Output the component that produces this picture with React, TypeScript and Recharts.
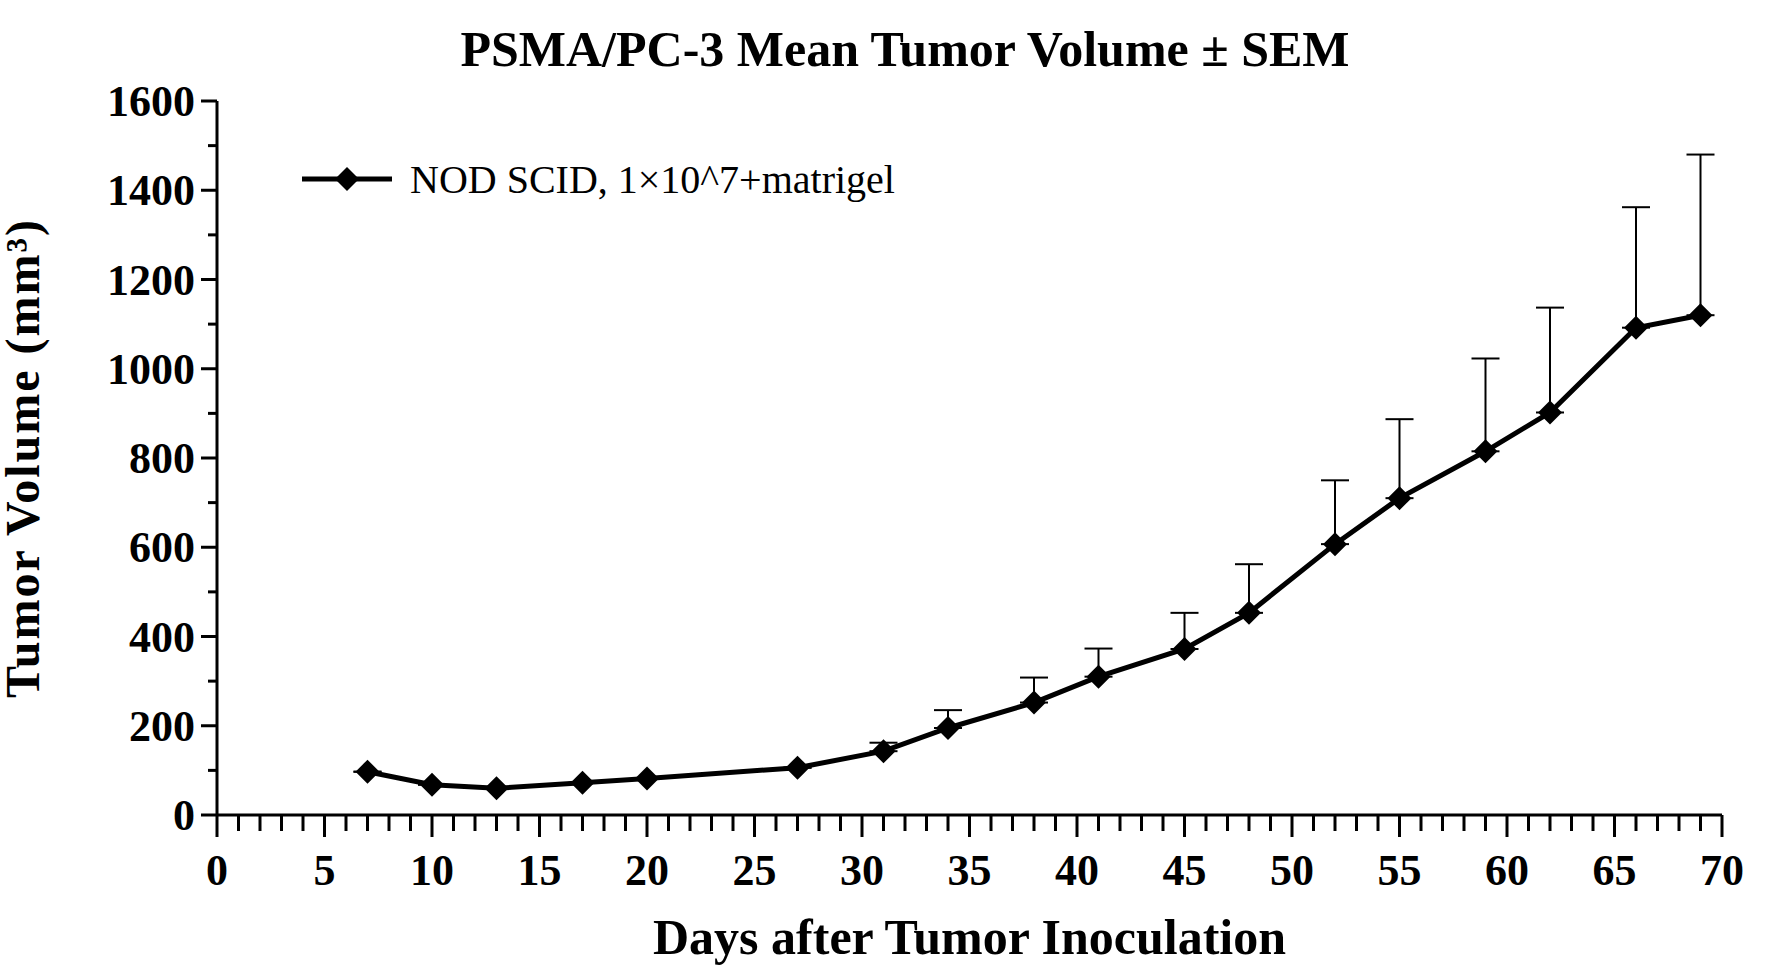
import React from "react";
import { LineChart, Line, XAxis, YAxis, ErrorBar, Label } from "recharts";

const days = [7, 10, 13, 17, 20, 27, 31, 34, 38, 41, 45, 48, 52, 55, 59, 62, 66, 69];
const meanVolume = [97, 68, 60, 72, 82, 106, 143, 195, 252, 310, 372, 453, 607, 710, 815, 902, 1092, 1120];
const upperSem = [97, 68, 60, 72, 82, 106, 162, 235, 308, 373, 453, 562, 750, 887, 1023, 1137, 1362, 1480];
const xTicks = Array.from({ length: 71 }, (_, i) => i);
const yTicks = Array.from({ length: 17 }, (_, i) => i * 100);

const data = days.map((d, i) => ({
  day: d,
  volume: meanVolume[i],
  err: [0, upperSem[i] - meanVolume[i]],
}));

const font = "'Liberation Serif', 'Times New Roman', serif";

const XTick = (props: any) => {
  const { x, y, payload } = props;
  const major = payload.value % 5 === 0;
  return (
    <g>
      <line x1={x} x2={x} y1={y - 8} y2={y + (major ? 14 : 8)} stroke="#000" strokeWidth={3} />
      {major && (
        <text x={x} y={y + 62} textAnchor="middle" fontFamily={font} fontWeight="bold" fontSize={44} fill="#000">
          {payload.value}
        </text>
      )}
    </g>
  );
};

const YTick = (props: any) => {
  const { x, y, payload } = props;
  const major = payload.value % 200 === 0;
  return (
    <g>
      <line x1={x + 8} x2={x + 8 - (major ? 16 : 9)} y1={y} y2={y} stroke="#000" strokeWidth={3} />
      {major && (
        <text x={x - 14} y={y + 15} textAnchor="end" fontFamily={font} fontWeight="bold" fontSize={44} fill="#000">
          {payload.value}
        </text>
      )}
    </g>
  );
};

const Diamond = (props: any) => {
  const { cx, cy } = props;
  const r = 12;
  return <path d={`M${cx},${cy - r}L${cx + r},${cy}L${cx},${cy + r}L${cx - r},${cy}Z`} fill="#000" />;
};

export default function App() {
  return (
    <div style={{ position: "absolute", left: 0, top: 0, background: "#fff" }}>
      <LineChart width={1779} height={978} data={data} margin={{ top: 101, right: 57, left: 0, bottom: 0 }}>
        <text x={905} y={66} textAnchor="middle" fontFamily={font} fontWeight="bold" fontSize={50} fill="#000">
          PSMA/PC-3 Mean Tumor Volume ± SEM
        </text>
        <g>
          <line x1={302} x2={392} y1={179} y2={179} stroke="#000" strokeWidth={5} />
          <Diamond cx={347} cy={179} />
          <text x={410} y={193} fontFamily={font} fontSize={40} fill="#000">
            NOD SCID, 1×10^7+matrigel
          </text>
        </g>
        <XAxis
          dataKey="day"
          type="number"
          domain={[0, 70]}
          ticks={xTicks}
          interval={0}
          tick={<XTick />}
          tickLine={false}
          height={163}
          axisLine={{ stroke: "#000", strokeWidth: 3 }}
        >
          <Label value="Days after Tumor Inoculation" position="insideBottom" offset={24} style={{ fontFamily: font, fontWeight: "bold", fontSize: 50, fill: "#000" }} />
        </XAxis>
        <YAxis
          type="number"
          domain={[0, 1600]}
          ticks={yTicks}
          interval={0}
          tick={<YTick />}
          tickLine={false}
          width={217}
          axisLine={{ stroke: "#000", strokeWidth: 3 }}
        >
          <Label
            value="Tumor Volume (mm³)"
            angle={-90}
            position="insideLeft"
            offset={22}
            style={{ textAnchor: "middle", fontFamily: font, fontWeight: "bold", fontSize: 48, fill: "#000", letterSpacing: 2 }}
          />
        </YAxis>
        <Line
          dataKey="volume"
          stroke="#000"
          strokeWidth={5}
          dot={<Diamond />}
          activeDot={false}
          isAnimationActive={false}
        >
          <ErrorBar dataKey="err" direction="y" width={14} stroke="#000" strokeWidth={2} />
        </Line>
      </LineChart>
    </div>
  );
}
